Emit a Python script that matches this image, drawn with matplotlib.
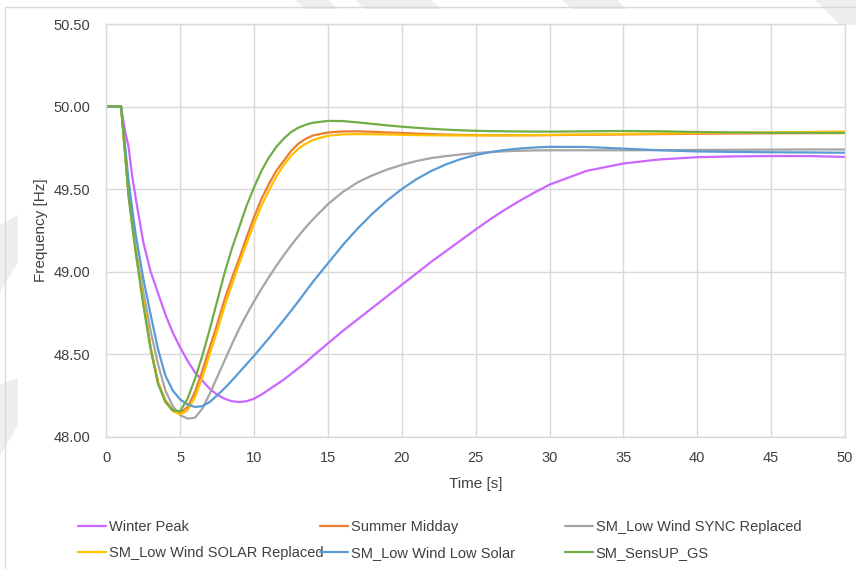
import matplotlib
matplotlib.use("Agg")
import matplotlib.pyplot as plt
from matplotlib.patches import Polygon, Rectangle

plt.rcParams['font.family'] = ['Liberation Sans', 'DejaVu Sans']

# ---------------- data ----------------
time_s = [0, 1, 1.25, 1.5, 1.75, 2, 2.5, 3, 3.5, 4, 4.5, 5, 5.5, 6, 6.5, 7, 7.5,
          8, 8.5, 9, 9.5, 10, 10.5, 11, 11.5, 12, 12.5, 13, 13.5, 14, 15, 16,
          17, 18, 19, 20, 21, 22, 23, 24, 25, 26, 27, 28, 29, 30,
          32.5, 35, 37.5, 40, 42.5, 45, 47.5, 50]

winter_peak = [50.00, 50.00, 49.86, 49.76, 49.58, 49.44, 49.18, 49.00, 48.87, 48.74,
               48.63, 48.54, 48.46, 48.39, 48.34, 48.29, 48.255,
               48.23, 48.215, 48.21, 48.215, 48.23, 48.255, 48.285, 48.315, 48.345,
               48.38, 48.415, 48.45, 48.49, 48.565, 48.64,
               48.71, 48.78, 48.85, 48.92, 48.99, 49.06, 49.125, 49.19, 49.255, 49.318,
               49.376, 49.43, 49.48, 49.527,
               49.61, 49.655, 49.68, 49.693, 49.698, 49.70, 49.70, 49.695]

summer_midday = [50.00, 50.00, 49.74, 49.48, 49.29, 49.12, 48.83, 48.54, 48.33, 48.22,
                 48.16, 48.145, 48.18, 48.27, 48.40, 48.54, 48.68,
                 48.83, 48.96, 49.08, 49.21, 49.33, 49.44, 49.53, 49.61, 49.67,
                 49.73, 49.775, 49.805, 49.825, 49.843, 49.849,
                 49.85, 49.847, 49.843, 49.84, 49.836, 49.833, 49.83, 49.828, 49.827,
                 49.826, 49.826, 49.826, 49.826, 49.827,
                 49.829, 49.831, 49.833, 49.835, 49.837, 49.838, 49.839, 49.84]

sync_replaced = [50.00, 50.00, 49.76, 49.50, 49.30, 49.14, 48.88, 48.64, 48.44, 48.28,
                 48.185, 48.13, 48.11, 48.115, 48.17, 48.26, 48.36,
                 48.46, 48.56, 48.655, 48.74, 48.82, 48.895, 48.966, 49.034, 49.098,
                 49.158, 49.215, 49.268, 49.318, 49.408, 49.482,
                 49.54, 49.583, 49.618, 49.647, 49.67, 49.688, 49.70, 49.71, 49.718,
                 49.724, 49.729, 49.732, 49.734, 49.735,
                 49.735, 49.735, 49.736, 49.737, 49.738, 49.739, 49.74, 49.74]

solar_replaced = [50.00, 50.00, 49.74, 49.48, 49.29, 49.12, 48.83, 48.54, 48.33, 48.21,
                  48.155, 48.135, 48.16, 48.24, 48.36, 48.50, 48.64,
                  48.79, 48.92, 49.05, 49.17, 49.29, 49.40, 49.49, 49.575, 49.645,
                  49.70, 49.745, 49.775, 49.798, 49.823, 49.831,
                  49.833, 49.832, 49.831, 49.829, 49.827, 49.826, 49.825, 49.825, 49.825,
                  49.825, 49.825, 49.826, 49.827, 49.828,
                  49.831, 49.834, 49.837, 49.84, 49.842, 49.844, 49.846, 49.848]

low_solar = [50.00, 50.00, 49.78, 49.56, 49.38, 49.22, 48.96, 48.74, 48.53, 48.37,
             48.28, 48.225, 48.195, 48.18, 48.185, 48.21, 48.25,
             48.293, 48.34, 48.39, 48.44, 48.49, 48.543, 48.596, 48.65, 48.705,
             48.762, 48.82, 48.88, 48.94, 49.05, 49.16,
             49.26, 49.35, 49.43, 49.50, 49.56, 49.61, 49.65, 49.682, 49.706,
             49.724, 49.737, 49.746, 49.752, 49.756,
             49.755, 49.745, 49.735, 49.728, 49.725, 49.723, 49.722, 49.72]

sensup_gs = [50.00, 50.00, 49.74, 49.46, 49.28, 49.11, 48.80, 48.53, 48.32, 48.21,
             48.16, 48.155, 48.23, 48.35, 48.49, 48.65, 48.82,
             48.99, 49.14, 49.27, 49.40, 49.51, 49.61, 49.69, 49.755, 49.805,
             49.845, 49.872, 49.89, 49.902, 49.913, 49.912,
             49.904, 49.895, 49.886, 49.878, 49.871, 49.865, 49.86, 49.856, 49.853,
             49.851, 49.85, 49.849, 49.848, 49.848,
             49.85, 49.852, 49.85, 49.846, 49.843, 49.841, 49.84, 49.84]

series_names = ["Winter Peak", "Summer Midday", "SM_Low Wind SYNC Replaced",
                "SM_Low Wind SOLAR Replaced", "SM_Low Wind Low Solar", "SM_SensUP_GS"]
series_values = [winter_peak, summer_midday, sync_replaced,
                 solar_replaced, low_solar, sensup_gs]
series_colors = ["#CC66FF", "#ED7D31", "#A5A5A5", "#FFC000", "#5B9BD5", "#70AD47"]

x_ticks = [0, 5, 10, 15, 20, 25, 30, 35, 40, 45, 50]
y_ticks = [48.0, 48.5, 49.0, 49.5, 50.0, 50.5]

# ---------------- figure ----------------
W, H = 856, 569
fig = plt.figure(figsize=(W / 100, H / 100), dpi=100)
fig.patch.set_facecolor("white")

def fx(px):
    return px / W

def fy(py):
    return 1 - py / H

# faint watermark bands near the edges
wm = "#EEEEEE"
bands = [
    [(295, 0), (328, 0), (338, 9), (305, 9)],
    [(355, 0), (431, 0), (441, 9), (365, 9)],
    [(562, 0), (617, 0), (627, 9), (572, 9)],
    [(815, 0), (856, 0), (856, 25), (840, 25)],
    [(0, 225), (0, 292), (18, 262), (18, 215)],
    [(0, 385), (0, 456), (18, 425), (18, 378)],
]
for b in bands:
    fig.patches.append(Polygon([(fx(x), fy(y)) for x, y in b], closed=True,
                               transform=fig.transFigure, facecolor=wm,
                               edgecolor="none", zorder=0))

# chart border
fig.patches.append(Rectangle((fx(5), fy(575)), fx(870) - fx(5), fy(7) - fy(575),
                             transform=fig.transFigure, facecolor="none",
                             edgecolor="#D9D9D9", lw=1.0, zorder=1))

left, right, top, bottom = 106.3, 845, 24, 436.7
ax = fig.add_axes([fx(left), fy(bottom), fx(right) - fx(left), fy(top) - fy(bottom)])
ax.set_facecolor("white")
ax.set_zorder(2)

lines = []
for name, vals, col in zip(series_names, series_values, series_colors):
    ln, = ax.plot(time_s, vals, color=col, lw=1.6, label=name,
                  solid_capstyle="round", solid_joinstyle="round")
    lines.append(ln)

ax.set_xlim(0, 50)
ax.set_ylim(48.0, 50.5)
ax.set_xticks(x_ticks)
ax.set_yticks(y_ticks)
ax.set_xticklabels([str(v) for v in x_ticks])
ax.set_yticklabels([f"{v:.2f}" for v in y_ticks])
ax.grid(True, color="#D9D9D9", lw=1.0)
ax.set_axisbelow(True)
for s in ax.spines.values():
    s.set_color("#D9D9D9")
    s.set_linewidth(1.0)
ax.tick_params(axis="both", length=0, labelsize=10.5, colors="#404040")
ax.tick_params(axis="x", pad=10)
ax.tick_params(axis="y", pad=11.5)

ax.set_xlabel("Time [s]", fontsize=11, color="#404040", labelpad=9)
ax.set_ylabel("Frequency [Hz]", fontsize=11, color="#404040", labelpad=4)

# legend: three columns with equal width like Excel
col_x = [78, 320, 565]
for ci in range(3):
    idx = [ci, ci + 3]
    leg = fig.legend([lines[i] for i in idx], [series_names[i] for i in idx],
                     loc="upper left", bbox_to_anchor=(fx(col_x[ci]), fy(520)),
                     frameon=False, fontsize=10.5, handlelength=1.95,
                     handletextpad=0.15, labelspacing=0.85, borderpad=0,
                     borderaxespad=0)
    for t in leg.get_texts():
        t.set_color("#404040")

fig.savefig("out.png", dpi=100, facecolor="white")
